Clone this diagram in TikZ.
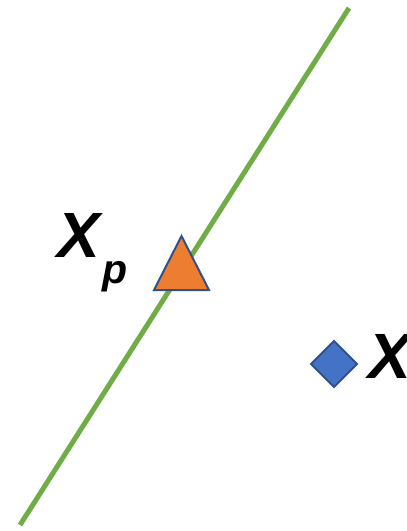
\documentclass[tikz,border=0pt]{standalone}
\usepackage{fontspec}
\setmainfont{Liberation Sans}
\definecolor{lgreen}{HTML}{70AD47}
\definecolor{orangefill}{HTML}{ED7D31}
\definecolor{bluefill}{HTML}{4472C4}
\definecolor{blueline}{HTML}{2F528F}
\tikzset{
  lbl/.style={inner sep=0pt, outer sep=0pt, font=\bfseries\itshape\fontsize{64}{64}\selectfont, anchor=base west},
  sublbl/.style={inner sep=0pt, outer sep=0pt, font=\bfseries\itshape\fontsize{41}{41}\selectfont, anchor=base west},
  shapeline/.style={draw=blueline, line width=2pt, line join=miter}
}
\begin{document}
\begin{tikzpicture}[x=1pt,y=-1pt]
\useasboundingbox (0,0) rectangle (407,531);
\clip (0,0) rectangle (407,531);
\coordinate (l1) at (20,525);
\coordinate (l2) at (349,8);
\draw[lgreen, line width=5pt] (l1) -- (l2);
\coordinate (ta) at (181.5,236);
\coordinate (tb) at (154,290);
\coordinate (tc) at (209,290);
\draw[shapeline, fill=orangefill] (ta) -- (tb) -- (tc) -- cycle;
\coordinate (dc) at (334,364);
\draw[shapeline, fill=bluefill] ([xshift=-23pt]dc) -- ([yshift=-23pt]dc) -- ([xshift=23pt]dc) -- ([yshift=23pt]dc) -- cycle;
\node[lbl] (xp) at (57,257) {X};
\node[sublbl] (p) at (102,283) {p};
\node[lbl] (x) at (368,378) {X};
\end{tikzpicture}
\end{document}
